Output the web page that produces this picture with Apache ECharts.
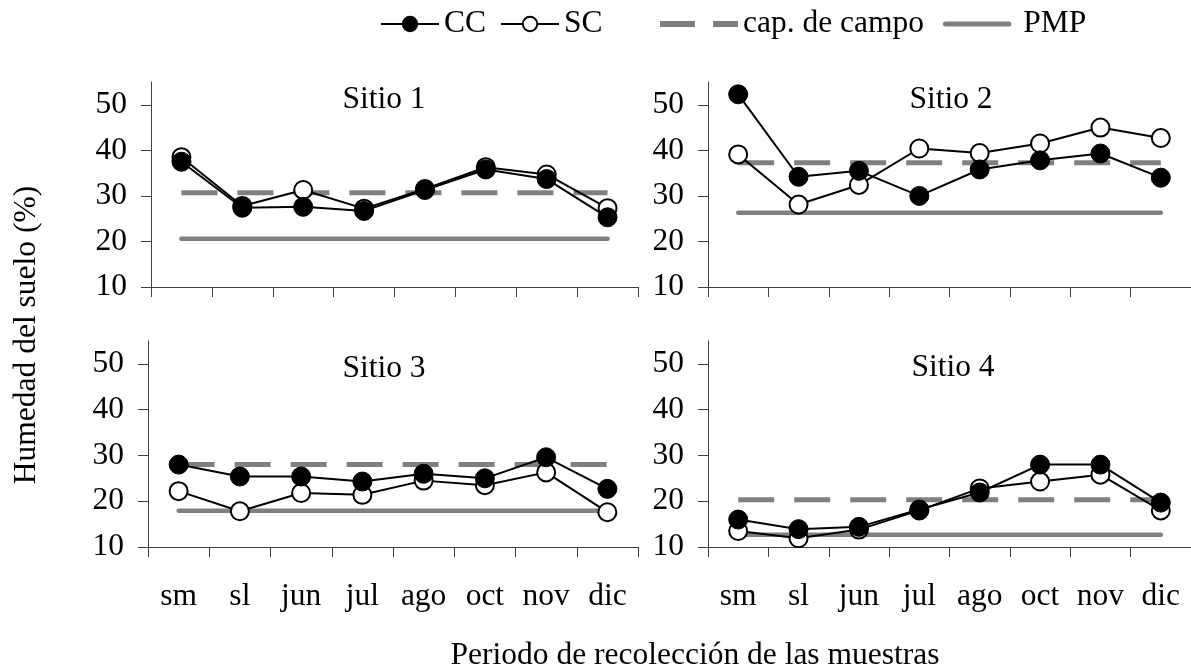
<!DOCTYPE html>
<html>
<head>
<meta charset="utf-8">
<script src="https://cdn.jsdelivr.net/npm/echarts@6/dist/echarts.min.js"></script>
<style>
html,body{margin:0;padding:0;background:#fff;}
#chart{width:1191px;height:671px;}
</style>
</head>
<body>
<div id="chart"></div>
<script>
// ---- data ----
const categories = ['sm', 'sl', 'jun', 'jul', 'ago', 'oct', 'nov', 'dic'];
const yTicks = [10, 20, 30, 40, 50];
const siteNames = ['Sitio 1', 'Sitio 2', 'Sitio 3', 'Sitio 4'];

const s1CC = [37.5, 27.4, 27.6, 26.7, 31.3, 35.8, 33.7, 25.3];
const s1SC = [38.5, 27.8, 31.3, 27.2, 31.5, 36.3, 34.7, 27.3];
const s2CC = [52.3, 34.2, 35.5, 30.0, 35.8, 37.8, 39.3, 34.0];
const s2SC = [39.1, 28.1, 32.4, 40.4, 39.4, 41.5, 45.0, 42.7];
const s3CC = [28.0, 25.4, 25.4, 24.3, 26.0, 25.0, 29.6, 22.7];
const s3SC = [22.2, 17.8, 21.8, 21.4, 24.5, 23.5, 26.3, 17.6];
const s4CC = [16.0, 13.9, 14.4, 18.2, 21.9, 28.0, 28.0, 19.7];
const s4SC = [13.5, 11.9, 13.8, 18.0, 22.8, 24.3, 25.8, 18.0];

const capCampo = [30.7, 37.3, 28.0, 20.3];
const pmp = [20.6, 26.3, 17.9, 12.7];

const ccData = [s1CC, s2CC, s3CC, s4CC];
const scData = [s1SC, s2SC, s3SC, s4SC];

// ---- layout / style ----
const FONT = '"Liberation Serif", "Times New Roman", serif';
const FS = 31.5;
const GRAY = '#808080';
const AXIS = '#404040';

const grids = [
  {left: 151, top: 82, width: 487, height: 205},
  {left: 708, top: 82, width: 489, height: 205},
  {left: 148, top: 341, width: 490, height: 206},
  {left: 708, top: 341, width: 489, height: 206}
];

const xAxes = grids.map((g, i) => ({
  type: 'category', gridIndex: i, data: categories, boundaryGap: true,
  axisLine: {lineStyle: {color: AXIS, width: 1}},
  axisTick: {show: true, interval: 0, length: 10, lineStyle: {color: AXIS}},
  axisLabel: {show: i >= 2, interval: 0, hideOverlap: false, color: '#000', fontFamily: FONT, fontSize: FS, margin: 34},
  splitLine: {show: false}
}));

const yAxes = grids.map((g, i) => ({
  type: 'value', gridIndex: i, min: 10, max: 55,
  axisLine: {show: true, lineStyle: {color: AXIS, width: 1}},
  axisTick: {show: true, length: 10, lineStyle: {color: AXIS}, customValues: yTicks},
  axisLabel: {color: '#000', fontFamily: FONT, fontSize: FS, margin: 24, customValues: yTicks},
  splitLine: {show: false}
}));

const series = [];
for (let i = 0; i < 4; i++) {
  series.push({
    name: 'cap. de campo', type: 'line', xAxisIndex: i, yAxisIndex: i,
    data: categories.map(() => capCampo[i]), symbol: 'none', silent: true,
    lineStyle: {color: GRAY, width: 5, type: [36, 20], cap: 'butt'},
    itemStyle: {color: GRAY}, z: 2
  });
  series.push({
    name: 'PMP', type: 'line', xAxisIndex: i, yAxisIndex: i,
    data: categories.map(() => pmp[i]), symbol: 'none', silent: true,
    lineStyle: {color: GRAY, width: 4.5, cap: 'round'},
    itemStyle: {color: GRAY}, z: 2
  });
  series.push({
    name: 'SC', type: 'line', xAxisIndex: i, yAxisIndex: i,
    data: scData[i], symbol: 'circle', symbolSize: 18,
    lineStyle: {color: '#000', width: 2},
    itemStyle: {color: '#fff', borderColor: '#000', borderWidth: 2}, z: 3
  });
  series.push({
    name: 'CC', type: 'line', xAxisIndex: i, yAxisIndex: i,
    data: ccData[i], symbol: 'circle', symbolSize: 19,
    lineStyle: {color: '#000', width: 2},
    itemStyle: {color: '#000', borderColor: '#000', borderWidth: 1}, z: 4
  });
}

const legendText = {color: '#000', fontFamily: FONT, fontSize: FS};
const legends = [
  {data: ['CC', 'SC'], left: 380, top: 8, padding: 0, itemWidth: 58, itemHeight: 18, itemGap: 14,
   textStyle: legendText, selectedMode: false},
  {data: [{name: 'cap. de campo', icon: 'path://M0,0L35,0L35,6L0,6Z M53,0L78,0L78,6L53,6Z'}],
   left: 660, top: 8, padding: 0, itemWidth: 78, itemHeight: 6, textStyle: legendText, selectedMode: false},
  {data: [{name: 'PMP', icon: 'path://M3,0L79,0A3,3 0 0 1 79,6L3,6A3,3 0 0 1 3,0Z'}],
   left: 943, top: 8, padding: 0, itemWidth: 82, itemHeight: 5, textStyle: legendText, selectedMode: false}
];

const titleCenters = [[384, 100], [951, 100], [384, 369], [953, 368]];
const graphics = siteNames.map((t, i) => ({
  type: 'text', x: titleCenters[i][0], y: titleCenters[i][1],
  style: {text: t, font: FS + 'px ' + FONT, fill: '#000', align: 'center', verticalAlign: 'middle'}
}));
graphics.push({
  type: 'text', x: 27, y: 335, rotation: Math.PI / 2,
  style: {text: 'Humedad del suelo (%)', font: FS + 'px ' + FONT, fill: '#000', align: 'center', verticalAlign: 'middle'}
});
graphics.push({
  type: 'text', x: 695, y: 656,
  style: {text: 'Periodo de recolección de las muestras', font: FS + 'px ' + FONT, fill: '#000', align: 'center', verticalAlign: 'middle'}
});

const chart = echarts.init(document.getElementById('chart'), null, {renderer: 'canvas'});
chart.setOption({
  backgroundColor: '#fff',
  animation: false,
  legend: legends,
  grid: grids.map(g => Object.assign({containLabel: false}, g)),
  xAxis: xAxes,
  yAxis: yAxes,
  series: series,
  graphic: graphics
});
</script>
</body>
</html>
